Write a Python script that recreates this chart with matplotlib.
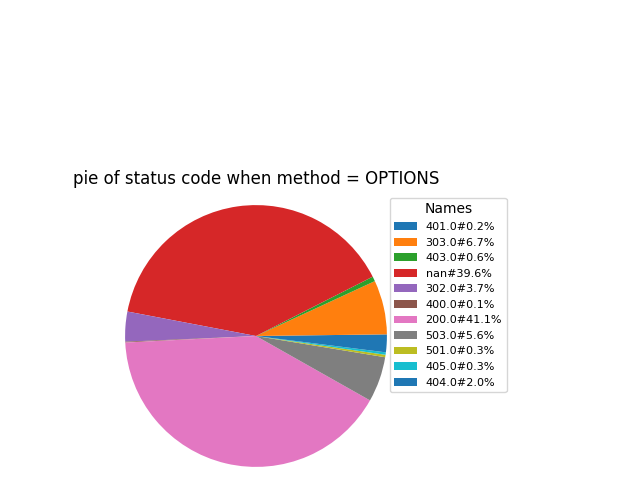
import matplotlib
matplotlib.use("Agg")
import matplotlib.pyplot as plt

codes = ["401.0", "303.0", "403.0", "nan", "302.0", "400.0",
         "200.0", "503.0", "501.0", "405.0", "404.0"]
shares = [0.2, 6.7, 0.6, 39.6, 3.7, 0.1, 41.1, 5.6, 0.3, 0.3, 2.0]

labels = [f"{c}#{s}%" for c, s in zip(codes, shares)]

fig = plt.figure(figsize=(6.4, 4.8), dpi=100)
ax = fig.add_axes([112 / 640, 0, 288 / 640, 288 / 480])

wedges, _ = ax.pie(shares)
ax.set_xlim(-1.1, 1.1)
ax.set_ylim(-1.1, 1.1)
ax.set_aspect("equal")
ax.set_title("pie of status code when method = OPTIONS")

ax.legend(wedges, labels, title="Names", fontsize=8,
          loc="upper left", bbox_to_anchor=(390 / 640, 1 - 198 / 480),
          bbox_transform=fig.transFigure, borderaxespad=0)

fig.savefig("out.png")
